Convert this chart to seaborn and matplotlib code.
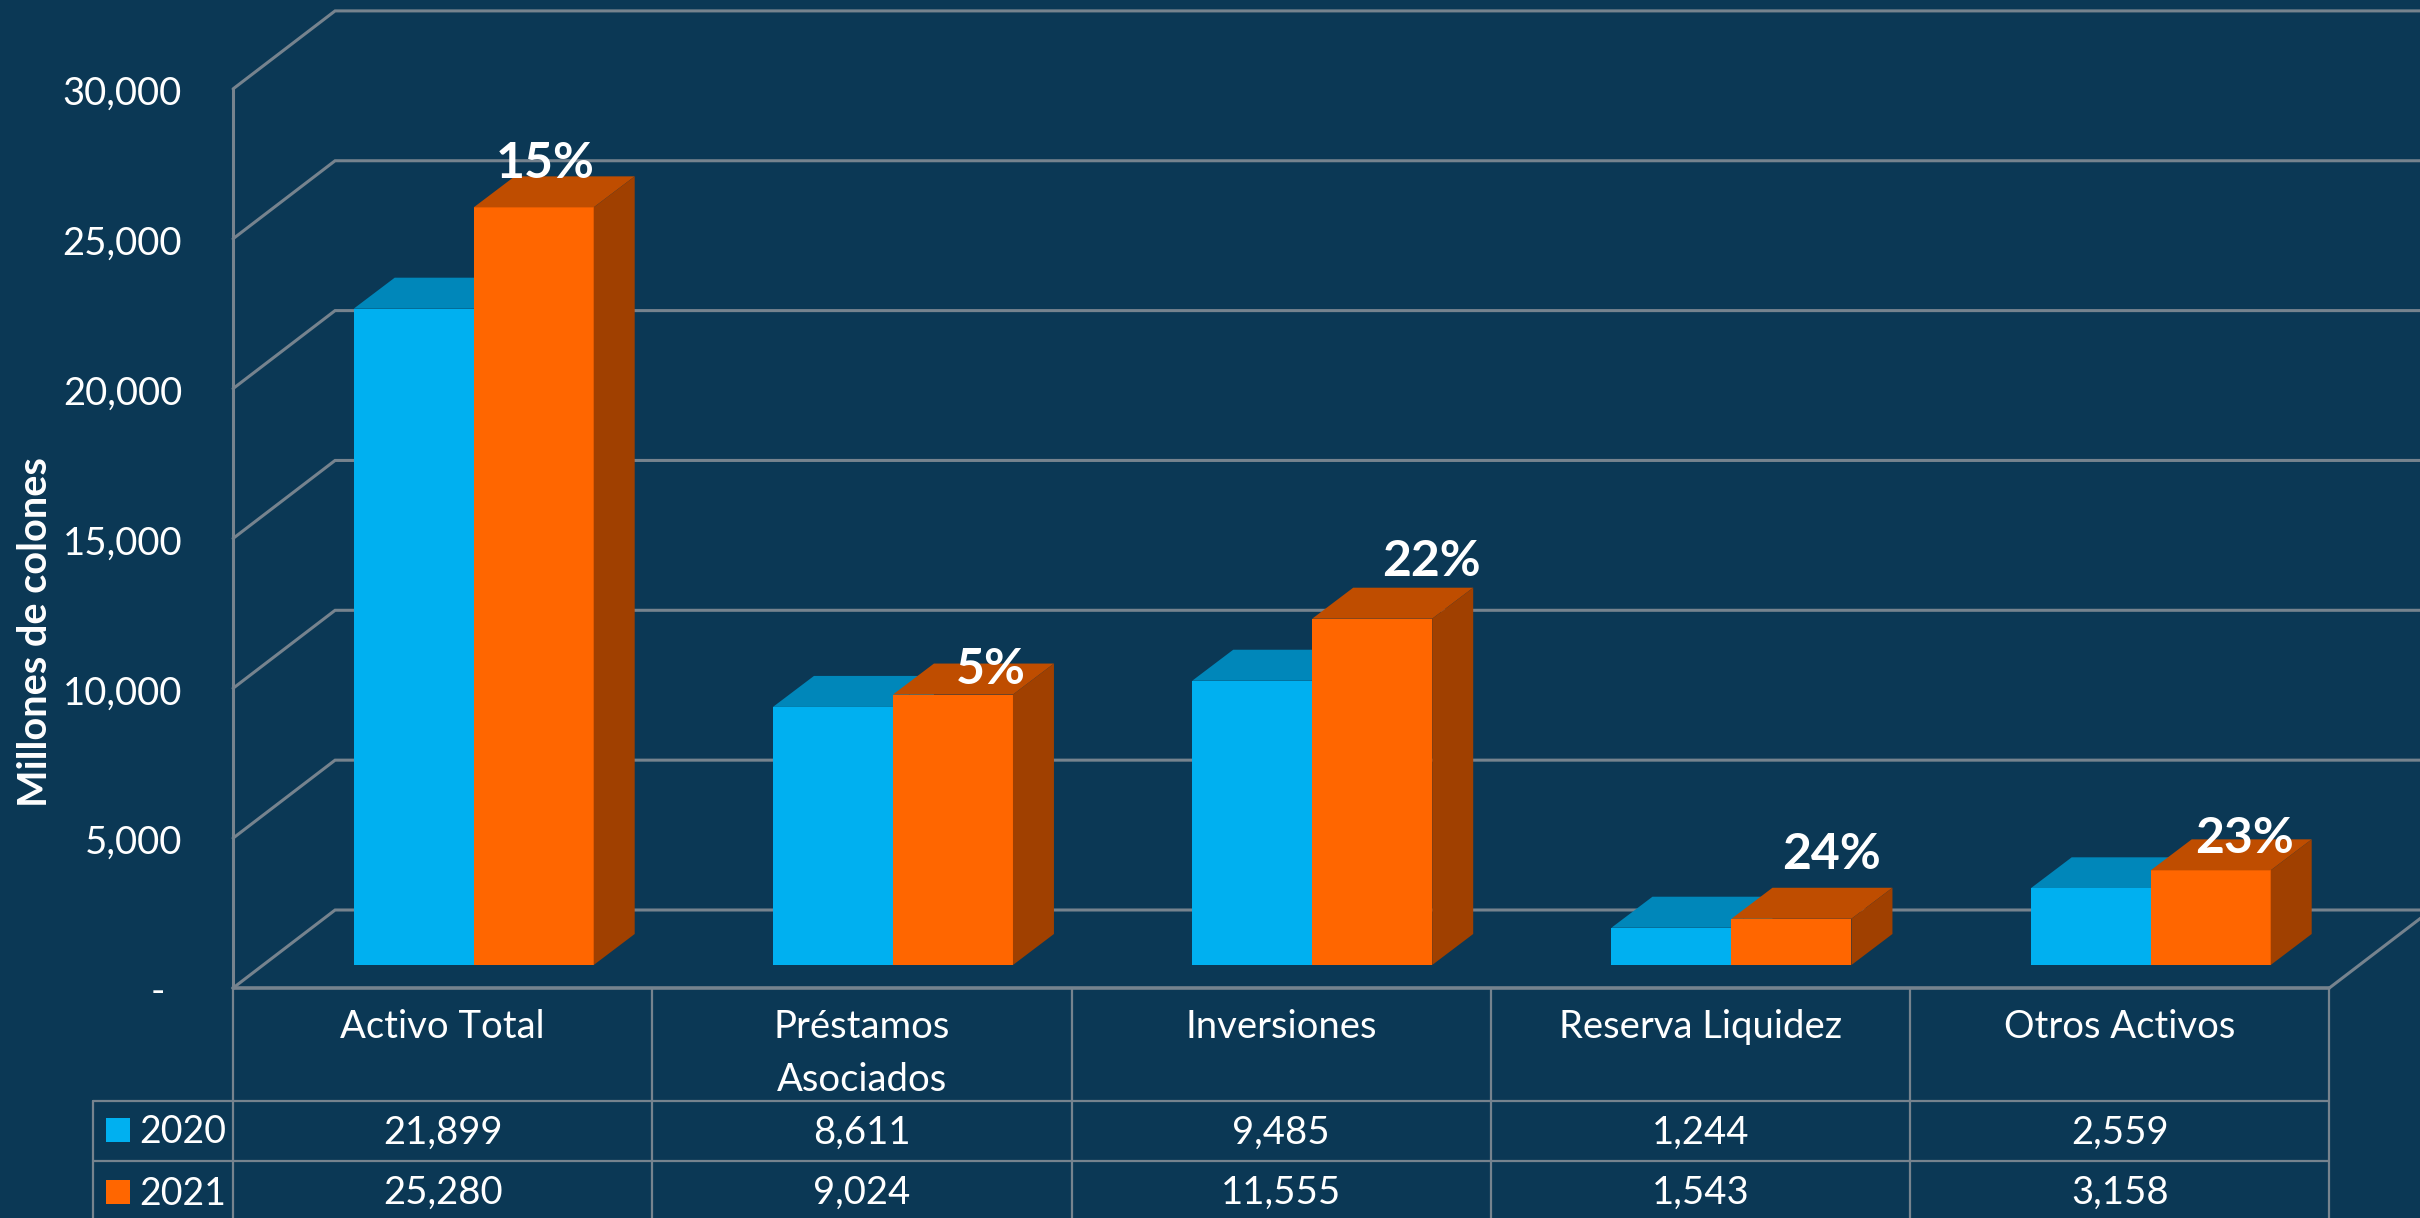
import pandas as pd
import seaborn as sns
import matplotlib.pyplot as plt

categories = ["Activo Total", "Préstamos\nAsociados", "Inversiones", "Reserva Liquidez", "Otros Activos"]
values_2020 = [21899, 8611, 9485, 1244, 2559]
values_2021 = [25280, 9024, 11555, 1543, 3158]
growth_labels = ["15%", "5%", "22%", "24%", "23%"]
y_ticks = [0, 5000, 10000, 15000, 20000, 25000, 30000]
years = ["2020", "2021"]

BG = "#0B3855"
GRID = "#76838E"
BLUE = "#00B0F0"
BLUE_TOP = "#0087BA"
ORANGE = "#FF6600"
ORANGE_TOP = "#BF4D00"
ORANGE_SIDE = "#A04000"

# layout in pixels of the 2420x1218 picture
PX_X = 419.25  # one category
PX_V = 0.02997  # one colon (millions)
ZERO_X = 473.7
ZERO_Y = 965

sns.set_theme(style="white")
plt.rcParams["font.family"] = ["Lato", "DejaVu Sans"]
plt.rcParams["text.color"] = "white"

df = pd.DataFrame(
    {
        "Categoria": categories * 2,
        "Año": [years[0]] * 5 + [years[1]] * 5,
        "Valor": values_2020 + values_2021,
    }
)

fig = plt.figure(figsize=(24.2, 12.18), dpi=100, facecolor=BG)
ax = fig.add_axes([0, 0, 1, 1])
sns.barplot(
    data=df,
    x="Categoria",
    y="Valor",
    hue="Año",
    order=categories,
    palette={years[0]: BLUE, years[1]: ORANGE},
    width=240 / PX_X,
    gap=0,
    saturation=1,
    linewidth=0,
    legend=False,
    zorder=3,
    ax=ax,
)
ax.set_xlim(-ZERO_X / PX_X, (2420 - ZERO_X) / PX_X)
ax.set_ylim(-(1218 - ZERO_Y) / PX_V, ZERO_Y / PX_V)
ax.set_axis_off()


def shift(x, v, dx=0, dy=0):
    # dx, dy in pixels, dy upwards
    return x + dx / PX_X, v + dy / PX_V


def at_y(y):
    # pixel row of the picture as a value on the y scale
    return (ZERO_Y - y) / PX_V


# walls and floor ---------------------------------------------------------
FRONT = (-31, -23)
BACK = (71, 55)
left, right = -0.5, len(categories) - 0.5

for v in y_ticks:
    xa, ya = shift(left, v, *FRONT)
    xb, yb = shift(left, v, *BACK)
    xc, yc = shift(right + 1, v, *BACK)
    ax.plot([xa, xb, xc], [ya, yb, yc], color=GRID, lw=2.2, zorder=1, solid_joinstyle="miter")
    if v:
        ax.text(xa - 51 / PX_X, ya - 5 / PX_V, f"{v:,}", ha="right", va="center", fontsize=27.5)
    else:
        ax.text(xa - 75 / PX_X, ya - 4 / PX_V, "-", ha="center", va="center", fontsize=28)

xa, ya = shift(left, 0, *FRONT)
xb, yb = shift(left, y_ticks[-1], *FRONT)
ax.plot([xa, xb], [ya, yb], color=GRID, lw=2.2, zorder=1)
xb, yb = shift(right, 0, *FRONT)
ax.plot([xa, xb], [ya, yb], color=GRID, lw=2.6, zorder=1)
xc, yc = shift(right, 0, *BACK)
ax.plot([xb, xc], [yb, yc], color=GRID, lw=2.2, zorder=1)

# 3d faces of the bars ----------------------------------------------------
DEPTH = (41, 31)
face_colors = [(BLUE_TOP, BLUE_TOP, 2), (ORANGE_TOP, ORANGE_SIDE, 3)]
for container, (top_color, side_color, z) in zip(ax.containers, face_colors):
    for bar in container:
        x0, x1 = bar.get_x(), bar.get_x() + bar.get_width()
        h = bar.get_height()
        dx, dy = shift(0, 0, *DEPTH)
        ax.fill([x0, x1, x1 + dx, x0 + dx], [h, h, h + dy, h + dy], color=top_color, lw=0, zorder=z)
        ax.fill([x1, x1 + dx, x1 + dx, x1], [0, dy, h + dy, h], color=side_color, lw=0, zorder=z)

# growth labels -----------------------------------------------------------
label_offsets = [(71, 44), (98, 25), (119, 57), (100, 64), (94, 32)]
for i, (txt, v) in enumerate(zip(growth_labels, values_2021)):
    x, y = shift(i, v, *label_offsets[i])
    ax.text(x, y, txt, ha="center", va="center", fontsize=36, fontweight="bold", zorder=5)

ax.text((35 - ZERO_X) / PX_X, at_y(632), "Millones de colones", rotation=90,
        ha="center", va="center", fontsize=28.5, fontweight="bold")

# data table --------------------------------------------------------------
table_left = (93 - ZERO_X) / PX_X
col_end = shift(right, 0, *FRONT)[0]
for y in [1101, 1161]:
    ax.plot([table_left, col_end], [at_y(y)] * 2, color=GRID, lw=1.6, zorder=1)
ax.plot([table_left] * 2, [at_y(1101), at_y(1218)], color=GRID, lw=1.6, zorder=1)
for i in range(len(categories) + 1):
    x = shift(i - 0.5, 0, *FRONT)[0]
    ax.plot([x, x], [at_y(988), at_y(1218)], color=GRID, lw=1.6, zorder=1)

for i, name in enumerate(categories):
    x = shift(i, 0, *FRONT)[0]
    ax.text(x, at_y(1009), name, ha="center", va="top", fontsize=27.5, linespacing=1.6)
    ax.text(x, at_y(1133), f"{values_2020[i]:,}", ha="center", va="center", fontsize=27.5)
    ax.text(x, at_y(1193), f"{values_2021[i]:,}", ha="center", va="center", fontsize=27.5)

for year, y, color in zip(years, [1130, 1192], [BLUE, ORANGE]):
    x0, x1 = (106 - ZERO_X) / PX_X, (130 - ZERO_X) / PX_X
    ax.fill([x0, x1, x1, x0], [at_y(y - 12), at_y(y - 12), at_y(y + 12), at_y(y + 12)], color=color, lw=0)
    ax.text((139 - ZERO_X) / PX_X, at_y(y + 2), year, ha="left", va="center", fontsize=27)

plt.savefig("out.png", dpi=100, facecolor=BG)
